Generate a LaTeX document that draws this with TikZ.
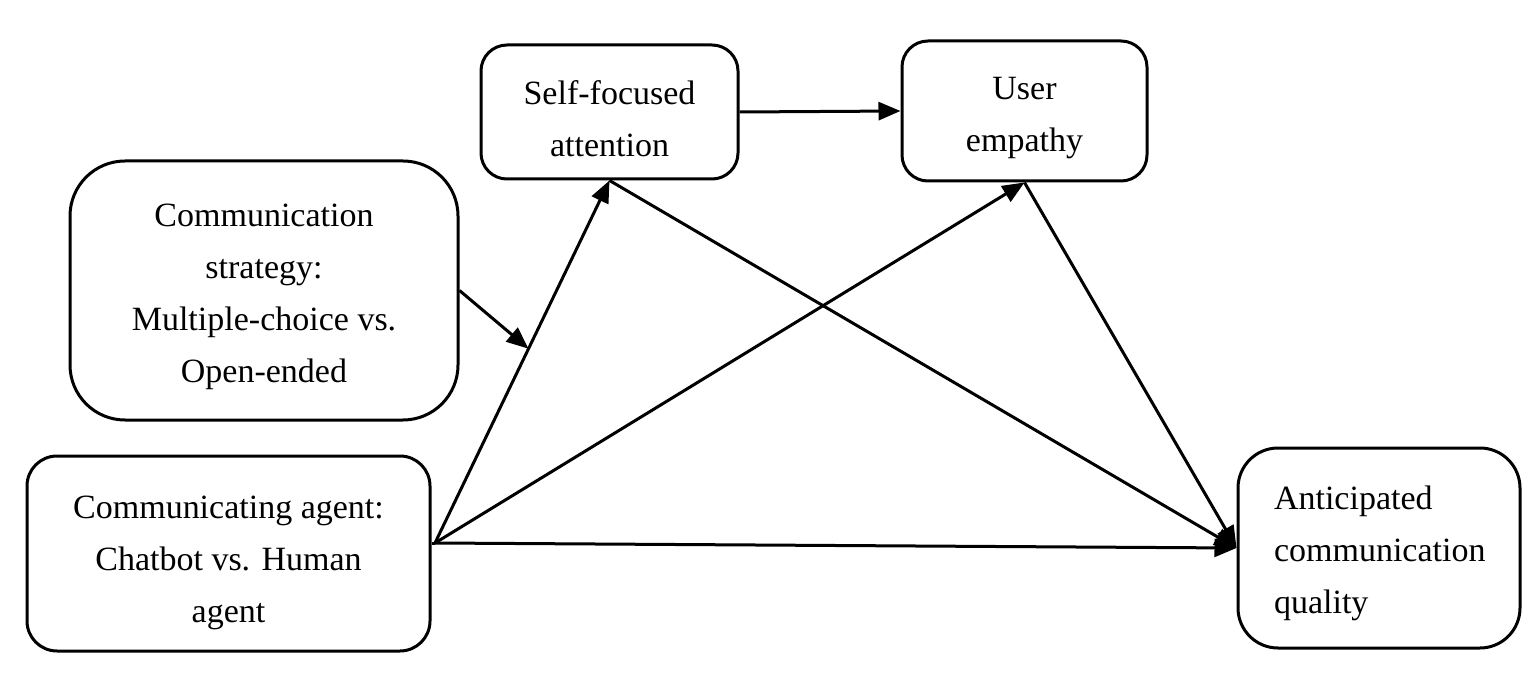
\documentclass[tikz,border=0pt]{standalone}
\usepackage{fontspec}
\setmainfont{Liberation Serif}
\usetikzlibrary{arrows.meta,calc}
\begin{document}
\begin{tikzpicture}[x=1pt,y=-1pt,
  box/.style={draw=black, line width=3pt, inner sep=0pt},
  txt/.style={inner sep=0pt, align=center, font=\fontsize{34}{52}\selectfont},
  conn/.style={line width=3pt, -{Triangle[length=22pt,width=18pt]}}]
\useasboundingbox (0,0) rectangle (1540,676);
\node[box, rounded corners=26pt, minimum width=257pt, minimum height=134pt] (sfa) at (609.5,112) {};
\node[txt] (sfat) at ($(sfa.center)+(0,7)$) {Self-focused\\attention};
\node[box, rounded corners=26pt, minimum width=245pt, minimum height=140pt] (ue) at (1024.5,111) {};
\node[txt] (uet) at ($(ue.center)+(0,7)$) {User\\empathy};
\node[box, rounded corners=55pt, minimum width=388pt, minimum height=259pt] (cs) at (264,290.5) {};
\node[txt] (cst) at ($(cs.center)+(0,6)$) {Communication\\strategy:\\Multiple-choice vs.\\Open-ended};
\node[box, rounded corners=30pt, minimum width=403pt, minimum height=195pt] (ca) at (228.5,553.5) {};
\node[txt] (cat) at ($(ca.center)+(0,9)$) {Communicating agent:\\Chatbot vs. Human\\agent};
\node[box, rounded corners=40pt, minimum width=282pt, minimum height=200pt] (aq) at (1379,548) {};
\node[txt, align=left, text width=218pt] (aqt) at ($(aq.center)+(4,5)$) {Anticipated\\communication\\quality};
\coordinate (src) at (435,543);
\draw[conn] (sfa.east |- 0,112) -- (ue.west |- 0,111);
\draw[line width=3pt] (ca.east |- src) -- (src);
\draw[conn] (src) -- (sfa.south);
\draw[conn] (src) -- (ue.south);
\draw[conn] (src) -- (aq.west);
\draw[conn] (sfa.south) -- (aq.west);
\draw[conn] (ue.south) -- (aq.west);
\draw[conn] (cs.east) -- ($(src)!0.536!(sfa.south)$);
\end{tikzpicture}
\end{document}
